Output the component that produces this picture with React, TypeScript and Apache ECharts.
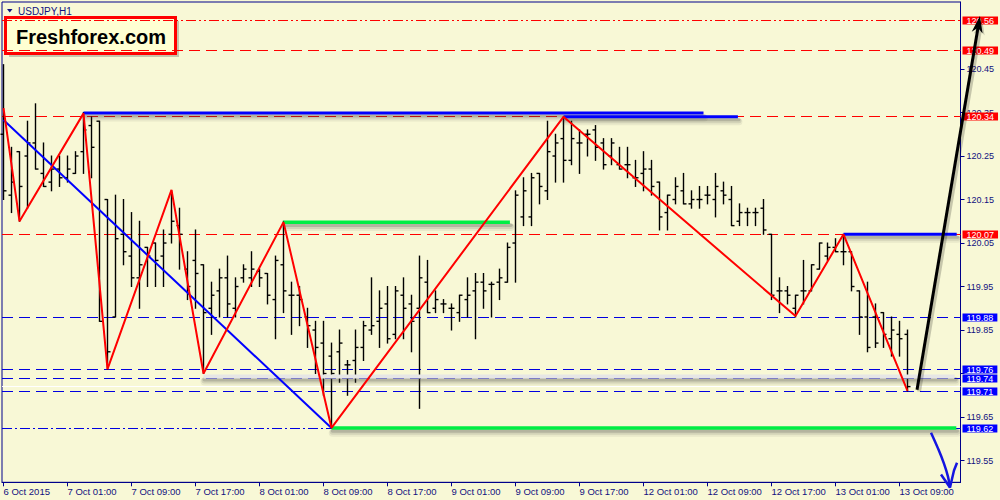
import { useEffect, useRef } from 'react';
import * as echarts from 'echarts';

// ---- data ----
const tickLabels = ['6 Oct 2015', '7 Oct 01:00', '7 Oct 09:00', '7 Oct 17:00', '8 Oct 01:00', '8 Oct 09:00', '8 Oct 17:00', '9 Oct 01:00', '9 Oct 09:00', '9 Oct 17:00', '12 Oct 01:00', '12 Oct 09:00', '12 Oct 17:00', '13 Oct 01:00', '13 Oct 09:00'];
const barsPerLabel = 8;

const opens = [120.30, 120.16, 120.26, 120.25, 120.28, 120.21, 120.19, 120.22, 120.20, 120.21,
  120.26, 120.32, 120.33, 120.15, 119.88, 120.07, 120.02, 119.97, 120.04, 120.05,
  120.02, 120.07, 120.09, 119.99, 120.01, 120.00, 119.90, 119.94, 119.97, 119.90,
  119.97, 119.97, 119.985, 119.98, 119.92, 120.00, 119.93, 119.93, 119.88, 119.85,
  119.82, 119.79, 119.80, 119.77, 119.78, 119.81, 119.85, 119.87, 119.91, 119.84,
  119.93, 119.91, 119.90, 119.96, 119.90, 119.91, 119.90, 119.89, 119.92, 119.94,
  119.96, 119.955, 119.96, 119.96, 120.05, 120.11, 120.11, 120.21, 120.17, 120.25,
  120.29, 120.24, 120.28, 120.30, 120.31, 120.28, 120.25, 120.23, 120.23, 120.20,
  120.21, 120.22, 120.19, 120.12, 120.15, 120.17, 120.14, 120.15, 120.16, 120.15,
  120.17, 120.15, 120.10, 120.12, 120.12, 120.13, 120.07, 119.94, 119.94, 119.90,
  119.94, 119.94, 119.99, 120.02, 120.04, 120.03, 120.03, 119.94, 119.88, 119.88,
  119.89, 119.83, 119.84, 119.84];
const highs = [120.46, 120.27, 120.26, 120.33, 120.37, 120.28, 120.25, 120.25, 120.25, 120.26,
  120.35, 120.34, 120.33, 120.15, 120.16, 120.15, 120.12, 120.10, 120.04, 120.05,
  120.08, 120.17, 120.13, 120.03, 120.08, 120.00, 119.96, 119.99, 120.02, 119.97,
  120.00, 120.03, 119.99, 119.98, 120.02, 120.10, 119.96, 119.95, 119.90, 119.87,
  119.87, 119.82, 119.85, 119.78, 119.85, 119.87, 119.97, 119.94, 119.95, 119.95,
  119.97, 119.93, 120.02, 120.01, 119.94, 119.92, 119.91, 119.93, 119.97, 119.98,
  119.98, 119.96, 119.99, 120.05, 120.17, 120.20, 120.21, 120.21, 120.33, 120.30,
  120.34, 120.33, 120.31, 120.31, 120.32, 120.29, 120.29, 120.27, 120.27, 120.24,
  120.26, 120.24, 120.19, 120.16, 120.20, 120.21, 120.17, 120.18, 120.18, 120.21,
  120.19, 120.18, 120.14, 120.13, 120.13, 120.15, 120.07, 119.97, 119.95, 119.93,
  120.01, 120.00, 120.05, 120.05, 120.06, 120.07, 120.03, 119.94, 119.96, 119.91,
  119.89, 119.88, 119.87, 119.85];
const lows = [120.15, 120.12, 120.10, 120.13, 120.22, 120.18, 120.17, 120.18, 120.19, 120.21,
  120.21, 120.20, 119.87, 119.76, 119.88, 120.00, 119.95, 119.90, 119.95, 119.95,
  119.95, 120.05, 119.99, 119.92, 119.90, 119.75, 119.84, 119.88, 119.88, 119.88,
  119.96, 119.95, 119.95, 119.91, 119.83, 119.89, 119.84, 119.86, 119.81, 119.75,
  119.70, 119.625, 119.73, 119.70, 119.73, 119.78, 119.84, 119.81, 119.82, 119.83,
  119.83, 119.80, 119.67, 119.89, 119.89, 119.89, 119.85, 119.87, 119.88, 119.83,
  119.90, 119.88, 119.92, 119.96, 119.96, 120.09, 120.09, 120.14, 120.15, 120.19,
  120.19, 120.23, 120.21, 120.25, 120.24, 120.22, 120.23, 120.22, 120.20, 120.18,
  120.17, 120.16, 120.08, 120.08, 120.14, 120.14, 120.13, 120.13, 120.14, 120.11,
  120.14, 120.09, 120.09, 120.09, 120.09, 120.07, 119.92, 119.89, 119.91, 119.88,
  119.91, 119.94, 119.99, 120.01, 120.03, 120.00, 119.94, 119.84, 119.80, 119.81,
  119.81, 119.79, 119.79, 119.71];
const closes = [120.17, 120.19, 120.18, 120.28, 120.22, 120.18, 120.22, 120.20, 120.22, 120.25,
  120.31, 120.27, 119.87, 119.80, 120.06, 120.03, 119.97, 120.00, 120.02, 120.01,
  120.05, 120.10, 120.07, 119.95, 119.98, 119.89, 119.93, 119.97, 119.91, 119.95,
  119.99, 119.99, 119.97, 119.93, 120.01, 119.94, 119.93, 119.92, 119.86, 119.81,
  119.75, 119.75, 119.82, 119.77, 119.81, 119.86, 119.86, 119.90, 119.83, 119.94,
  119.90, 119.87, 119.97, 119.89, 119.92, 119.91, 119.90, 119.93, 119.93, 119.96,
  119.94, 119.955, 119.97, 120.04, 120.16, 120.17, 120.20, 120.18, 120.26, 120.28,
  120.24, 120.29, 120.28, 120.30, 120.27, 120.23, 120.28, 120.22, 120.23, 120.20,
  120.22, 120.18, 120.11, 120.16, 120.18, 120.14, 120.15, 120.15, 120.16, 120.18,
  120.16, 120.09, 120.12, 120.12, 120.12, 120.08, 119.93, 119.94, 119.93, 119.93,
  119.94, 120.00, 120.05, 120.04, 120.03, 120.03, 119.95, 119.88, 119.81, 119.82,
  119.84, 119.85, 119.83, 119.72];

const zigzagBars = [0, 2, 10, 13, 21, 25, 35, 41, 70, 99, 105, 113];
const zigzagPrices = [120.36, 120.10, 120.348, 119.76, 120.172, 119.75, 120.098, 119.625, 120.34, 119.882, 120.07, 119.71];

// horizontal levels (quotes shown rounded to 2 digits);
// dash kind: 0 = dashed, 1 = dash-dot, 2 = dash-dot-dot
const redLevels = [120.5615, 120.4925, 120.3408, 120.0700];
const redLevelDash = [2, 0, 0, 0];
const blueLevels = [119.8788, 119.7593, 119.7386, 119.7087, 119.6237];
const blueLevelDash = [0, 0, 0, 0, 1];
const whiteLevel = 119.7202;
const yTickValues = [119.55, 119.65, 119.75, 119.85, 119.95, 120.05, 120.15, 120.25, 120.35, 120.45];
const yLabelValues = [119.55, 119.65, 119.85, 119.95, 120.05, 120.15, 120.25, 120.35, 120.45];

// segments: [barFrom, priceFrom, barTo, priceTo]
const blueDiagonal = [0, 120.333, 41, 119.625];
const blueTopA = [10, 120.349, 87.5, 120.349];
const blueTopB = [70, 120.34, 91.8, 120.34];
const blueRight = [105, 120.07, 119.15, 120.07];
const greenTop = [35, 120.098, 63.3, 120.098];
const greenBottom = [41, 119.625, 119.1, 119.625];
const grayBand = [25, 119.743, 118.9, 119.743];
const blackArrow = [114.19, 119.713, 122.06, 120.572];
const blueCurve = [[115.94, 119.614], [116.81, 119.578], [117.56, 119.543], [118.06, 119.513], [118.31, 119.488]];
const blueCurveHead = [[117.19, 119.518], [118.31, 119.488], [118.81, 119.527], [119.19, 119.545]];

// ---- styling constants ----
const NAVY = '#101080';
const FONT = '"Liberation Sans", Arial, sans-serif';
const RED = '#ff0000';
const BLUE_LINE = '#0000e0';
const BLUE_BOX = '#0000ff';
const DASHES = [[11, 6], [10, 3, 2, 3], [10, 3, 2, 3, 2, 3]];

function shadowSeg(segment: number[], color: string, width: number, shadow: boolean, z: number) {
  return {
    type: 'custom',
    silent: true,
    clip: false,
    z,
    data: [segment],
    encode: { x: [0, 2], y: [1, 3] },
    renderItem: (_p: any, api: any) => {
      const a = api.coord([api.value(0), api.value(1)]);
      const b = api.coord([api.value(2), api.value(3)]);
      const children: any[] = [];
      if (shadow) {
        const layers = [
          [5, 0.08, width + 4],
          [4, 0.12, width + 2],
          [3, 0.2, width],
        ];
        layers.forEach(([off, op, w]) => {
          children.push({
            type: 'line',
            shape: { x1: a[0] + 1, y1: a[1] + off, x2: b[0] + 1, y2: b[1] + off },
            style: { stroke: `rgba(60,60,60,${op})`, lineWidth: w, lineCap: 'round' },
          });
        });
      }
      children.push({
        type: 'line',
        shape: { x1: a[0], y1: a[1], x2: b[0], y2: b[1] },
        style: { stroke: color, lineWidth: width },
      });
      return { type: 'group', children };
    },
  };
}

export default function App() {
  const ref = useRef<HTMLDivElement>(null);

  useEffect(() => {
    if (!ref.current) return;
    const chart = echarts.init(ref.current, null, { renderer: 'svg' });

    const xTickValues = tickLabels.map((_, k) => k * barsPerLabel);
    const ohlc = opens.map((o, i) => [i, o, highs[i], lows[i], closes[i]]);

    // rows: [price, colorKind (0 red, 1 blue, 2 white), dashKind, showLabel]
    const levelRows: number[][] = [
      ...redLevels.map((v, k) => [v, 0, redLevelDash[k], 1]),
      [whiteLevel, 2, -1, 0],
      ...blueLevels.map((v, k) => [v, 1, blueLevelDash[k], 1]),
    ];
    const lineColors = [RED, BLUE_LINE, '#ffffff'];
    const boxColors = [RED, BLUE_BOX, '#ffffff'];

    const makeLevelSeries = (withLabels: boolean, z: number) => ({
      type: 'custom',
      silent: true,
      clip: false,
      z,
      data: levelRows,
      encode: { y: 0 },
      renderItem: (params: any, api: any) => {
        const cs = params.coordSys;
        const price = api.value(0);
        const kind = api.value(1);
        const dashKind = api.value(2);
        const p = api.coord([0, price]);
        const y = Math.floor(p[1]) + 0.5;
        if (!withLabels) {
          return {
            type: 'line',
            shape: { x1: cs.x, y1: y, x2: cs.x + cs.width, y2: y },
            style: {
              stroke: lineColors[kind],
              lineWidth: 1,
              lineDash: dashKind >= 0 ? DASHES[dashKind] : null,
            },
          };
        }
        if (!api.value(3)) return null;
        return {
          type: 'text',
          x: cs.x + cs.width + 2,
          y,
          style: {
            text: price.toFixed(2),
            fill: '#ffffff',
            backgroundColor: boxColors[kind],
            padding: [0, 4, 0, 4],
            font: `9px ${FONT}`,
            lineHeight: 8,
            align: 'left',
            verticalAlign: 'middle',
          },
        };
      },
    });

    const option: any = {
      animation: false,
      backgroundColor: '#f8f8d6',
      grid: {
        left: 2, right: 39.5, top: 2, bottom: 17.7,
        show: true, borderColor: '#00008b', borderWidth: 1, backgroundColor: 'transparent',
      },
      xAxis: {
        type: 'value',
        min: -0.1875,
        max: 119.625,
        splitLine: { show: false },
        axisLine: { show: true, onZero: false, lineStyle: { color: '#00008b', width: 1 } },
        axisTick: { show: true, customValues: xTickValues, length: 4, lineStyle: { color: '#00008b' } },
        axisLabel: {
          customValues: xTickValues,
          formatter: (v: number) => tickLabels[Math.round(v / barsPerLabel)] ?? '',
          align: 'left',
          margin: 4,
          color: NAVY,
          fontSize: 9.5,
          fontFamily: FONT,
        },
      },
      yAxis: {
        type: 'value',
        position: 'right',
        min: 119.5,
        max: 120.604,
        splitLine: { show: false },
        axisLine: { show: true, onZero: false, lineStyle: { color: '#00008b', width: 1 } },
        axisTick: { show: true, customValues: yTickValues, length: 4, lineStyle: { color: '#00008b' } },
        axisLabel: {
          customValues: yLabelValues,
          formatter: (v: number) => v.toFixed(2),
          margin: 6,
          color: NAVY,
          fontSize: 9,
          fontFamily: FONT,
        },
      },
      series: [
        makeLevelSeries(false, 1),
        {
          type: 'custom',
          name: 'ohlc',
          silent: true,
          z: 2,
          data: ohlc,
          encode: { x: 0, y: [1, 2, 3, 4] },
          renderItem: (_params: any, api: any) => {
            const i = api.value(0);
            const pO = api.coord([i, api.value(1)]);
            const pH = api.coord([i, api.value(2)]);
            const pL = api.coord([i, api.value(3)]);
            const pC = api.coord([i, api.value(4)]);
            const x = pH[0];
            const st = { stroke: '#000000', lineWidth: 1.4 };
            return {
              type: 'group',
              children: [
                { type: 'line', shape: { x1: x, y1: pH[1] - 0.5, x2: x, y2: pL[1] + 0.5 }, style: st },
                { type: 'line', shape: { x1: x - 3, y1: pO[1], x2: x, y2: pO[1] }, style: st },
                { type: 'line', shape: { x1: x, y1: pC[1], x2: x + 3, y2: pC[1] }, style: st },
              ],
            };
          },
        },
        shadowSeg(grayBand, '#e6e6e6', 4, true, 3),
        shadowSeg(greenTop, '#00ee44', 3.5, true, 3),
        shadowSeg(greenBottom, '#00ee44', 3.5, true, 3),
        shadowSeg(blueTopA, '#0000ff', 3, true, 3),
        shadowSeg(blueTopB, '#0000ff', 3, true, 3),
        shadowSeg(blueRight, '#0000ff', 3, true, 3),
        shadowSeg(blueDiagonal, '#0000ff', 2, false, 4),
        {
          type: 'line',
          silent: true,
          z: 5,
          data: zigzagBars.map((b, k) => [b, zigzagPrices[k]]),
          symbol: 'none',
          showSymbol: false,
          lineStyle: { color: RED, width: 2 },
        },
        makeLevelSeries(true, 6),
        {
          type: 'custom',
          silent: true,
          clip: false,
          z: 7,
          data: [blackArrow],
          encode: { x: [0, 2], y: [1, 3] },
          renderItem: (_p: any, api: any) => {
            const a = api.coord([api.value(0), api.value(1)]);
            const b = api.coord([api.value(2), api.value(3)]);
            const dx = b[0] - a[0];
            const dy = b[1] - a[1];
            const len = Math.sqrt(dx * dx + dy * dy);
            const ux = dx / len;
            const uy = dy / len;
            const nx = -uy;
            const ny = ux;
            const headLen = 17;
            const headHalf = 5.5;
            const base = [b[0] - ux * headLen, b[1] - uy * headLen];
            const notch = [b[0] - ux * 12, b[1] - uy * 12];
            const head = [
              [b[0], b[1]],
              [base[0] + nx * headHalf, base[1] + ny * headHalf],
              notch,
              [base[0] - nx * headHalf, base[1] - ny * headHalf],
            ];
            const so = 2;
            return {
              type: 'group',
              children: [
                { type: 'line', shape: { x1: a[0] + so, y1: a[1] + so, x2: notch[0] + so, y2: notch[1] + so }, style: { stroke: 'rgba(0,0,0,0.2)', lineWidth: 4 } },
                { type: 'polygon', shape: { points: head.map((p) => [p[0] + so, p[1] + so]) }, style: { fill: 'rgba(0,0,0,0.2)' } },
                { type: 'line', shape: { x1: a[0], y1: a[1], x2: notch[0], y2: notch[1] }, style: { stroke: '#000000', lineWidth: 3 } },
                { type: 'polygon', shape: { points: head }, style: { fill: '#000000' } },
              ],
            };
          },
        },
        {
          type: 'line',
          silent: true,
          clip: false,
          z: 7,
          smooth: 0.4,
          data: blueCurve,
          symbol: 'none',
          showSymbol: false,
          lineStyle: { color: '#1515e0', width: 2.5 },
        },
        {
          type: 'line',
          silent: true,
          clip: false,
          z: 7,
          data: blueCurveHead,
          symbol: 'none',
          showSymbol: false,
          lineStyle: { color: '#1515e0', width: 2.5 },
        },
      ],
      graphic: [
        {
          type: 'polygon',
          silent: true,
          shape: { points: [[7, 9], [12.5, 9], [9.75, 12.5]] },
          style: { fill: NAVY },
        },
        {
          type: 'text',
          silent: true,
          style: { text: 'USDJPY,H1', x: 18, y: 11, verticalAlign: 'middle', font: `10px ${FONT}`, fill: NAVY },
        },
        {
          type: 'rect',
          silent: true,
          shape: { x: 9, y: 21, width: 170, height: 36 },
          style: { fill: 'rgba(80,80,80,0.3)' },
        },
        {
          type: 'rect',
          silent: true,
          shape: { x: 5.5, y: 17.5, width: 170, height: 36 },
          style: { fill: '#ffffd2', stroke: '#ff0000', lineWidth: 3 },
        },
        {
          type: 'text',
          silent: true,
          style: {
            text: 'Freshforex.com', x: 91, y: 37, align: 'center', verticalAlign: 'middle',
            font: `bold 20px ${FONT}`, fill: '#000000',
          },
        },
      ],
    };

    chart.setOption(option);
    return () => chart.dispose();
  }, []);

  return (
    <div
      ref={ref}
      style={{ position: 'absolute', left: 0, top: 0, width: 1000, height: 500 }}
    />
  );
}
